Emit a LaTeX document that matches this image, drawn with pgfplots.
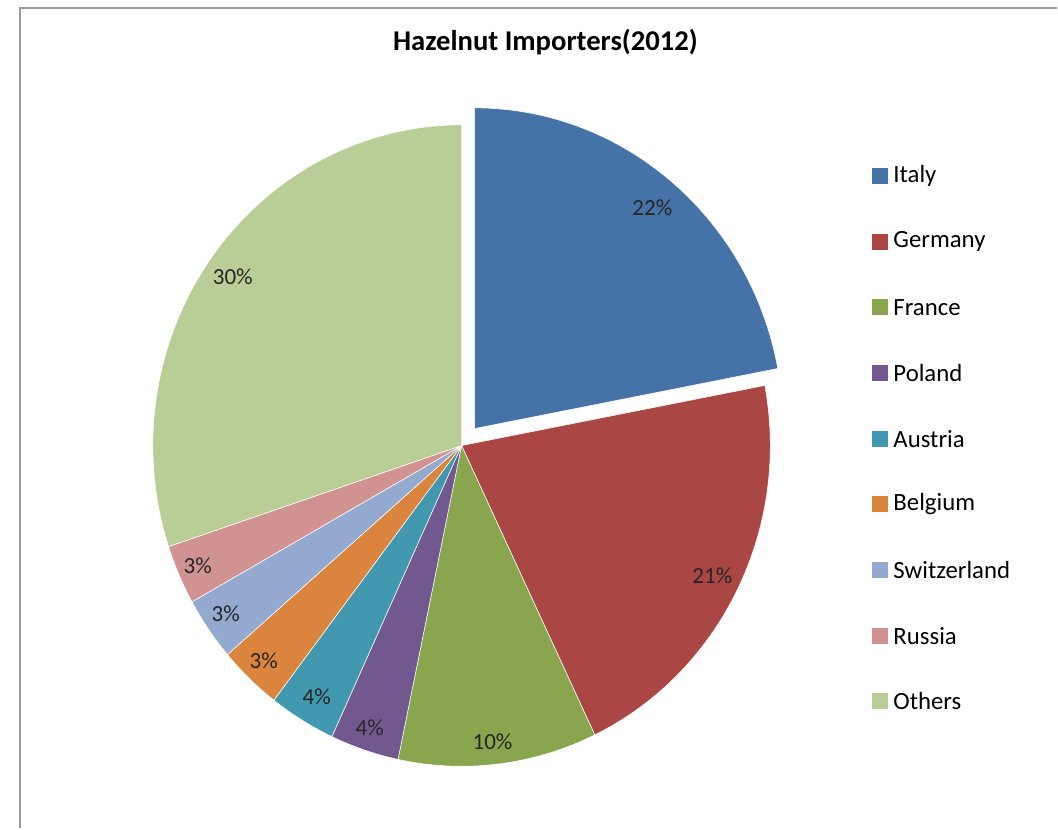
\documentclass[border=0pt]{standalone}
\usepackage{pgfplots}
\pgfplotsset{compat=1.18}
\usepackage{fontspec}
\setmainfont{Carlito}
\definecolor{cItaly}{HTML}{4572A7}
\definecolor{cGermany}{HTML}{AA4643}
\definecolor{cFrance}{HTML}{89A54E}
\definecolor{cPoland}{HTML}{71588F}
\definecolor{cAustria}{HTML}{4198AF}
\definecolor{cBelgium}{HTML}{DB843D}
\definecolor{cSwitzerland}{HTML}{93A9CF}
\definecolor{cRussia}{HTML}{D19392}
\definecolor{cOthers}{HTML}{B9CD96}
\newcommand\lbl{\fontsize{17.3}{20}\selectfont}
\newcommand\leg{\fontsize{18.6}{21}\selectfont}
\begin{document}
\begin{tikzpicture}
\begin{axis}[hide axis, scale only axis, width=793.5pt, height=621.75pt,
  xmin=0, xmax=1058, ymin=-829, ymax=0, clip=false]
% frame
\fill[white] (axis cs:0,0) rectangle (axis cs:1058,-829);
\draw[black!40, line width=1.5pt] (axis cs:20,-829) -- (axis cs:20,-8) -- (axis cs:1058,-8);
% title
\node[font=\bfseries\fontsize{21.5}{24}\selectfont] at (axis cs:546,-42) {Hazelnut Importers(2012)};
% pie: share (%) / shown label / colour / centre x / centre y / label x / label y
\foreach \v/\t/\c/\cx/\cy/\lx/\ly [remember=\e as \s (initially 90)] in {
  22.0/22/cItaly/475/429/653/208,
  20.9/21/cGermany/462/446/713/576,
  10.4/10/cFrance/462/446/493/742,
  3.6/4/cPoland/462/446/370/728,
  3.5/4/cAustria/462/446/317/697,
  3.3/3/cBelgium/462/446/264/661,
  3.2/3/cSwitzerland/462/446/226/614,
  3.0/3/cRussia/462/446/198/566,
  30.1/30/cOthers/462/446/233/277} {
  \pgfmathsetmacro\e{\s-3.6*\v}
  \pgfmathsetmacro\px{\cx+309*cos(\s)}
  \pgfmathsetmacro\py{-\cy+321*sin(\s)}
  \edef\tmp{\noexpand\fill[\c, draw=white, line width=0.4pt] (axis cs:\cx,-\cy) -- (axis cs:\px,\py)
     arc[start angle=\s, end angle=\e, x radius=231.75pt, y radius=240.75pt] -- cycle;
     \noexpand\node[font=\noexpand\lbl, text=black!85] at (axis cs:\lx,-\ly) {\t\noexpand\%};}
  \tmp
}
% legend
\foreach \n/\c [count=\i from 0] in {Italy/cItaly, Germany/cGermany, France/cFrance,
  Poland/cPoland, Austria/cAustria, Belgium/cBelgium, Switzerland/cSwitzerland,
  Russia/cRussia, Others/cOthers} {
  \pgfmathsetmacro\yy{-(176+65.75*\i)}
  \pgfmathsetmacro\ya{\yy+8}
  \pgfmathsetmacro\yb{\yy-8}
  \edef\tmp{\noexpand\fill[\c] (axis cs:873,\ya) rectangle (axis cs:889,\yb);
    \noexpand\node[anchor=west, inner sep=0pt, font=\noexpand\leg] at (axis cs:894,\yy) {\n};}
  \tmp
}
\end{axis}
\end{tikzpicture}
\end{document}
